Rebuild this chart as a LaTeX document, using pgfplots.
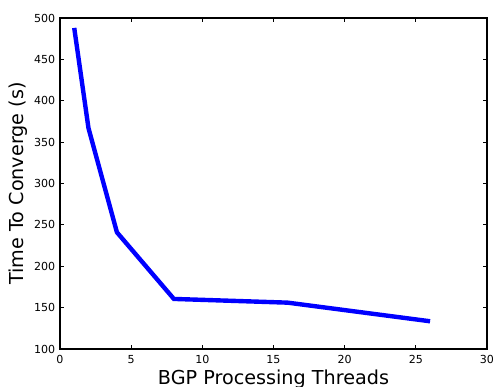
\documentclass[border=0pt]{standalone}
\usepackage{pgfplots}
\pgfplotsset{compat=1.18}
\usepackage{fontspec}
\setmainfont{DejaVu Sans}
\begin{document}
\begin{tikzpicture}
\begin{axis}[
  name=ax,
  scale only axis,
  width=320.25pt, height=248.25pt,
  xmin=0, xmax=30, ymin=100, ymax=500,
  xtick={0,5,10,15,20,25,30},
  ytick={100,150,200,250,300,350,400,450,500},
  tick align=inside,
  major tick length=3pt,
  axis line style={line width=0.8pt},
  tick style={line width=0.6pt, black},
  /pgf/number format/assume math mode=true,
  ticklabel style={font=\fontsize{8.3}{10}\selectfont},
  xticklabel style={yshift=-1pt},
  xlabel={BGP Processing Threads},
  ylabel={Time To Converge (s)},
  label style={font=\fontsize{14.4}{17}\selectfont},
  xlabel style={yshift=2pt},
  ylabel style={yshift=-2pt},
]
\addplot[color=blue, line width=3.3pt, line join=miter] coordinates {
  (1,488) (2,367) (4,241) (8,160.5) (16,156) (26,133.5)
};
\end{axis}
\pgfresetboundingbox
\path[use as bounding box] ([xshift=-45pt,yshift=-28.5pt]ax.south west) rectangle ([xshift=4.5pt,yshift=13.5pt]ax.north east);
\end{tikzpicture}
\end{document}
